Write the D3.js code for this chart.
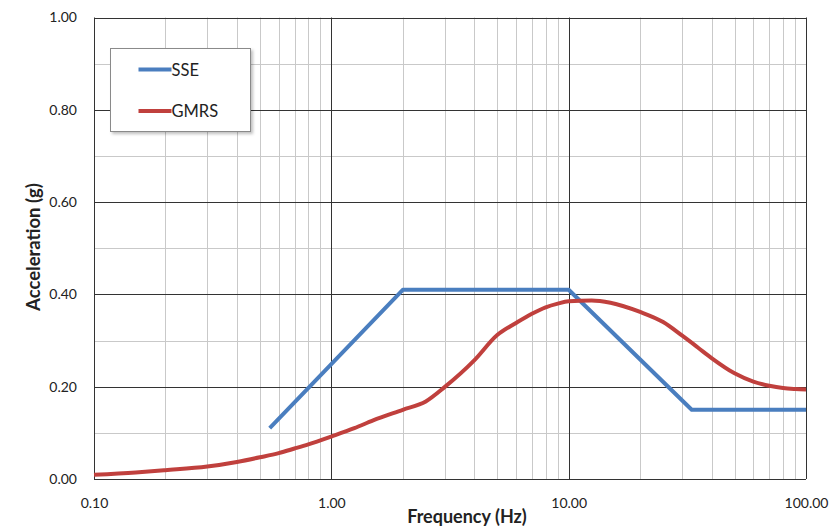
<!DOCTYPE html>
<html>
  <head>
    <script src="https://d3js.org/d3.v7.min.js"></script>
    <style>
      body { margin: 0; background: #fff; }
      text { font-family: Lato, "Open Sans", sans-serif; fill: #222; }
    </style>
  </head>
  <body>
    <div id="chart"></div>

    <script>
      // ========= Data ========= //
      const sseFreq = [0.55, 2, 10, 33, 100];
      const sseAcc  = [0.11, 0.41, 0.41, 0.15, 0.15];

      const gmrsFreq = [0.1, 0.15, 0.2, 0.3, 0.4, 0.5, 0.6, 0.7, 0.8, 1, 1.25, 1.5, 2, 2.5, 3, 4, 5, 6, 7, 8, 9,
                        10, 12.5, 15, 20, 25, 30, 35, 40, 50, 60, 70, 80, 90, 100];
      const gmrsAcc  = [0.009, 0.014, 0.019, 0.027, 0.037, 0.047, 0.056, 0.066, 0.075, 0.092, 0.110, 0.127, 0.150, 0.168,
                        0.199, 0.257, 0.312, 0.338, 0.358, 0.372, 0.380, 0.385, 0.387, 0.382, 0.362, 0.340, 0.311,
                        0.285, 0.262, 0.229, 0.211, 0.202, 0.197, 0.195, 0.194];

      const xTicks = [0.1, 1, 10, 100];
      const yTicks = [0, 0.2, 0.4, 0.6, 0.8, 1.0];
      const seriesNames = ['SSE', 'GMRS'];
      const seriesColors = ['#4a7ebf', '#c0403d'];

      // ========= Setup ========= //
      const width = 831, height = 529;
      const margin = { left: 94, right: 25, top: 17.5, bottom: 50 };

      const svg = d3.select('#chart').append('svg')
        .attr('width', width)
        .attr('height', height);

      const x = d3.scaleLog()
        .domain([0.1, 100])
        .range([margin.left, width - margin.right]);

      const y = d3.scaleLinear()
        .domain([0, 1])
        .range([height - margin.bottom, margin.top]);

      // ========= Grid ========= //
      const minorX = [];
      for (let d = 0.1; d < 100; d *= 10) {
        for (let k = 2; k <= 9; k++) minorX.push(+(d * k).toPrecision(3));
      }
      const minorY = d3.range(0.1, 1, 0.2);

      const grid = svg.append('g');

      grid.selectAll('.minor-x')
        .data(minorX)
        .join('line')
          .attr('x1', d => Math.round(x(d)) + 0.5)
          .attr('x2', d => Math.round(x(d)) + 0.5)
          .attr('y1', y(1))
          .attr('y2', y(0))
          .attr('stroke', '#c9c9c9');

      grid.selectAll('.minor-y')
        .data(minorY)
        .join('line')
          .attr('x1', x(0.1))
          .attr('x2', x(100))
          .attr('y1', d => Math.round(y(d)) + 0.5)
          .attr('y2', d => Math.round(y(d)) + 0.5)
          .attr('stroke', '#c9c9c9');

      grid.selectAll('.major-x')
        .data(xTicks)
        .join('line')
          .attr('x1', d => Math.round(x(d)) + 0.5)
          .attr('x2', d => Math.round(x(d)) + 0.5)
          .attr('y1', y(1))
          .attr('y2', y(0))
          .attr('stroke', '#333');

      grid.selectAll('.major-y')
        .data(yTicks)
        .join('line')
          .attr('x1', x(0.1))
          .attr('x2', x(100))
          .attr('y1', d => Math.round(y(d)) + 0.5)
          .attr('y2', d => Math.round(y(d)) + 0.5)
          .attr('stroke', '#333');

      // ========= Axes ========= //
      const xAxis = svg.append('g')
        .attr('transform', `translate(0,${y(0)})`)
        .call(d3.axisBottom(x).tickValues(xTicks).tickSize(0).tickPadding(19)
          .tickFormat(d3.format('.2f')));

      const yAxis = svg.append('g')
        .attr('transform', `translate(${x(0.1)},0)`)
        .call(d3.axisLeft(y).tickValues(yTicks).tickSize(0).tickPadding(17)
          .tickFormat(d3.format('.2f')));

      [xAxis, yAxis].forEach(a => {
        a.select('.domain').remove();
        a.selectAll('text')
          .style('font-size', '14px')
          .style('font-family', 'Lato, "Open Sans", sans-serif')
          .attr('fill', '#222');
      });

      svg.append('text')
        .attr('x', 467)
        .attr('y', 523)
        .attr('text-anchor', 'middle')
        .style('font-size', '18px')
        .style('font-weight', 'bold')
        .text('Frequency (Hz)');

      svg.append('text')
        .attr('transform', 'translate(40,247) rotate(-90)')
        .attr('text-anchor', 'middle')
        .style('font-size', '18.5px')
        .style('font-weight', 'bold')
        .text('Acceleration (g)');

      // ========= Series ========= //
      const line = d3.line()
        .x(d => x(d[0]))
        .y(d => y(d[1]));

      const series = [
        d3.zip(sseFreq, sseAcc),
        d3.zip(gmrsFreq, gmrsAcc)
      ];

      svg.selectAll('.series')
        .data(series)
        .join('path')
          .attr('d', (d, i) => line.curve(i === 1 ? d3.curveMonotoneX : d3.curveLinear)(d))
          .attr('fill', 'none')
          .attr('stroke', (d, i) => seriesColors[i])
          .attr('stroke-width', 4)
          .attr('stroke-linejoin', 'round');

      // ========= Legend ========= //
      const defs = svg.append('defs');
      defs.append('filter')
        .attr('id', 'shadow')
        .append('feDropShadow')
          .attr('dx', 2).attr('dy', 2)
          .attr('stdDeviation', 1.5)
          .attr('flood-color', '#000')
          .attr('flood-opacity', 0.25);

      const legend = svg.append('g')
        .attr('transform', 'translate(110.5,48.5)');

      legend.append('rect')
        .attr('width', 140)
        .attr('height', 83)
        .attr('fill', '#fff')
        .attr('stroke', '#8a8a8a')
        .attr('filter', 'url(#shadow)');

      const items = legend.selectAll('.item')
        .data(seriesNames)
        .join('g')
          .attr('transform', (d, i) => `translate(0,${21 + i * 41.5})`);

      items.append('line')
        .attr('x1', 28).attr('x2', 61)
        .attr('stroke', (d, i) => seriesColors[i])
        .attr('stroke-width', 4);

      items.append('text')
        .attr('x', 61)
        .attr('y', 6)
        .style('font-size', '16.5px')
        .text(d => d);
    </script>
  </body>
</html>
